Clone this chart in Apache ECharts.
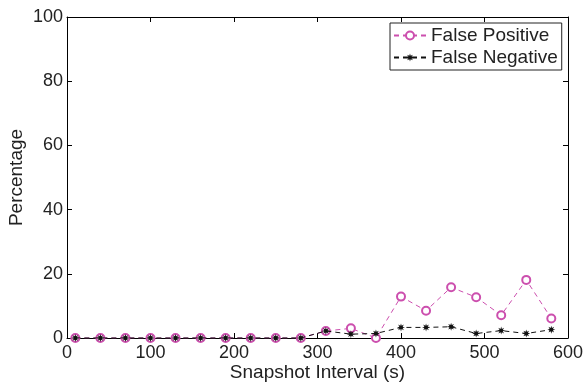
<!DOCTYPE html>
<html>
<head>
<meta charset="utf-8">
<script src="https://cdn.jsdelivr.net/npm/echarts@6/dist/echarts.min.js"></script>
<style>
  html, body { margin: 0; padding: 0; background: #fff; }
  #main { width: 586px; height: 383px; }
</style>
</head>
<body>
<div id="main"></div>
<script>
// snapshot intervals (s)
const intervals = [10, 40, 70, 100, 130, 160, 190, 220, 250, 280, 310, 340, 370, 400, 430, 460, 490, 520, 550, 580];
const falsePositive = [0, 0, 0, 0, 0, 0, 0, 0, 0, 0, 2.2, 3.0, 0, 12.9, 8.5, 15.8, 12.7, 7.1, 18.1, 6.1];
const falseNegative = [0, 0, 0, 0, 0, 0, 0, 0, 0, 0, 2.2, 1.2, 1.4, 3.3, 3.3, 3.5, 1.4, 2.3, 1.4, 2.6];
const xTicks = [0, 100, 200, 300, 400, 500, 600];
const yTicks = [0, 20, 40, 60, 80, 100];

const pink = '#cc4fae';
const font = 'Liberation Sans, Arial, Helvetica, sans-serif';

// asterisk-like marker
function starPath(n) {
  let d = '';
  for (let i = 0; i < n * 2; i++) {
    const a = Math.PI * i / n - Math.PI / 2;
    const r = i % 2 === 0 ? 1 : 0.45;
    d += (i === 0 ? 'M' : 'L') + (r * Math.cos(a)).toFixed(3) + ' ' + (r * Math.sin(a)).toFixed(3);
  }
  return 'path://' + d + 'Z';
}

const chartDom = document.getElementById('main');
const myChart = echarts.init(chartDom);

const baseAxis = {
  type: 'value',
  axisLine: { show: true, onZero: false, lineStyle: { color: '#000', width: 1 } },
  axisTick: { show: true, inside: true, length: 5, lineStyle: { color: '#000' } },
  splitLine: { show: false },
  axisLabel: { color: '#222', fontSize: 18, fontFamily: font }
};

const option = {
  animation: false,
  backgroundColor: '#fff',
  grid: { left: 67, right: 18, top: 17, bottom: 45, outerBoundsMode: 'none', containLabel: false },
  legend: {
    left: 390,
    top: 23,
    orient: 'vertical',
    backgroundColor: '#fff',
    borderColor: '#222',
    borderWidth: 1,
    borderRadius: 0,
    padding: [3, 4, 3, 3],
    itemGap: 3,
    itemWidth: 32,
    itemHeight: 10,
    textStyle: { fontSize: 19, fontFamily: font, color: '#222' },
    data: ['False Positive', 'False Negative']
  },
  xAxis: [
    Object.assign({}, baseAxis, {
      min: 0, max: 600, interval: 100,
      name: 'Snapshot Interval (s)',
      nameLocation: 'middle',
      nameGap: 25,
      nameMoveOverlap: false,
      nameTextStyle: { fontSize: 19, fontFamily: font, color: '#222', verticalAlign: 'top' },
      axisLabel: Object.assign({}, baseAxis.axisLabel, {
        margin: 6,
        customValues: xTicks
      })
    }),
    Object.assign({}, baseAxis, {
      position: 'top', min: 0, max: 600, interval: 100,
      axisLabel: { show: false }
    })
  ],
  yAxis: [
    Object.assign({}, baseAxis, {
      min: 0, max: 100, interval: 20,
      name: 'Percentage',
      nameLocation: 'middle',
      nameGap: 41,
      nameMoveOverlap: false,
      nameTextStyle: { fontSize: 19, fontFamily: font, color: '#222' },
      axisLabel: Object.assign({}, baseAxis.axisLabel, {
        margin: 4,
        customValues: yTicks
      })
    }),
    Object.assign({}, baseAxis, {
      position: 'right', min: 0, max: 100, interval: 20,
      axisLabel: { show: false }
    })
  ],
  series: [
    {
      name: 'False Positive',
      type: 'line',
      data: intervals.map((x, i) => [x, falsePositive[i]]),
      symbol: 'emptyCircle',
      symbolSize: 8,
      showAllSymbol: true,
      lineStyle: { color: pink, width: 1, type: [5, 4] },
      itemStyle: { color: pink, borderColor: pink, borderWidth: 1 },
      z: 2
    },
    {
      name: 'False Negative',
      type: 'line',
      data: intervals.map((x, i) => [x, falseNegative[i]]),
      symbol: starPath(8),
      symbolSize: 8,
      showAllSymbol: true,
      lineStyle: { color: '#111', width: 1, type: [5, 4] },
      itemStyle: { color: '#111' },
      z: 3
    }
  ]
};

option && myChart.setOption(option);
</script>
</body>
</html>
